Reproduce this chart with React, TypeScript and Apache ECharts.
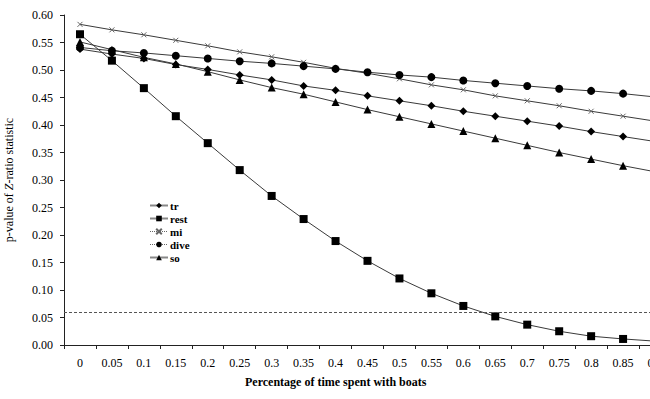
import React, { useEffect, useRef } from "react";
import * as echarts from "echarts";

const categories = ["0", "0.05", "0.1", "0.15", "0.2", "0.25", "0.3", "0.35", "0.4", "0.45", "0.5", "0.55", "0.6", "0.65", "0.7", "0.75", "0.8", "0.85", "0.9"];
const trValues = [0.538, 0.529, 0.521, 0.510, 0.501, 0.491, 0.482, 0.471, 0.463, 0.453, 0.444, 0.435, 0.425, 0.416, 0.407, 0.398, 0.388, 0.379, 0.370];
const restValues = [0.565, 0.517, 0.467, 0.416, 0.367, 0.318, 0.271, 0.229, 0.189, 0.153, 0.121, 0.094, 0.071, 0.052, 0.037, 0.025, 0.016, 0.011, 0.007];
const miValues = [0.583, 0.573, 0.564, 0.554, 0.544, 0.533, 0.524, 0.514, 0.503, 0.494, 0.484, 0.473, 0.464, 0.453, 0.444, 0.435, 0.425, 0.416, 0.407];
const diveValues = [0.541, 0.535, 0.531, 0.526, 0.521, 0.516, 0.512, 0.507, 0.502, 0.496, 0.491, 0.487, 0.481, 0.476, 0.471, 0.466, 0.462, 0.457, 0.451];
const soValues = [0.551, 0.537, 0.523, 0.511, 0.497, 0.482, 0.468, 0.456, 0.442, 0.428, 0.415, 0.402, 0.389, 0.376, 0.363, 0.350, 0.338, 0.326, 0.315];
const thresholdValue = 0.056;
const yTicks = { min: 0, max: 0.6, interval: 0.05 };

const FONT = "Liberation Serif, Times New Roman, DejaVu Serif, serif";

export default function App() {
  const ref = useRef<HTMLDivElement>(null);
  useEffect(() => {
    document.body.style.margin = "0";
    const chart = echarts.init(ref.current!, null, { renderer: "svg" });
    const lineColor = "#3a3a3a";
    const mk = (name: string, data: number[], symbol: string, size: number, symColor = "#000", extra: any = {}) => ({
      name,
      type: "line",
      data,
      symbol,
      symbolSize: size,
      showSymbol: true,
      lineStyle: { color: lineColor, width: 1 },
      itemStyle: { color: symColor, borderColor: symColor, borderWidth: 0 },
      emphasis: { disabled: true },
      z: 3,
      ...extra,
    });
    const crossPath = "path://M0,0L10,10M10,0L0,10";
    chart.setOption({
      animation: false,
      backgroundColor: "#fff",
      textStyle: { fontFamily: FONT },
      grid: { left: 64, top: 15, width: 607, height: 330, outerBoundsMode: "none", containLabel: false },
      legend: {
        orient: "vertical",
        left: 144,
        top: 195,
        itemWidth: 18,
        itemHeight: 7,
        itemGap: 2,
        textStyle: { fontFamily: FONT, fontSize: 11, fontWeight: "bold", color: "#000", padding: [0, 0, 0, -3] },
        data: [
          { name: "tr", lineStyle: { color: "#888", width: 2 } },
          { name: "rest", lineStyle: { color: "#888", width: 2 } },
          { name: "mi", lineStyle: { color: "#666", width: 1, type: "dotted" } },
          { name: "dive", lineStyle: { color: "#666", width: 1, type: "dotted" } },
          { name: "so", lineStyle: { color: "#888", width: 2 } },
        ],
      },
      xAxis: {
        type: "category",
        data: categories,
        boundaryGap: true,
        axisLine: { lineStyle: { color: "#222", width: 1 } },
        axisTick: { show: true, length: 4, inside: false, alignWithLabel: false, lineStyle: { color: "#222" } },
        axisLabel: { interval: 0, margin: 12, fontSize: 12, color: "#000", fontFamily: FONT, hideOverlap: false },
        splitLine: { show: false },
      },
      yAxis: {
        type: "value",
        min: yTicks.min,
        max: yTicks.max,
        interval: yTicks.interval,
        name: "p-value of {i|Z}-ratio statistic",
        nameLocation: "middle",
        nameGap: 49,
        nameTextStyle: {
          fontFamily: FONT,
          fontSize: 12,
          color: "#000",
          rich: { i: { fontStyle: "italic", fontFamily: FONT, fontSize: 12, color: "#000" } },
        },
        axisLine: { show: true, lineStyle: { color: "#222", width: 1 } },
        axisTick: { show: true, length: 4, lineStyle: { color: "#222" } },
        axisLabel: { margin: 11, fontSize: 12, color: "#000", fontFamily: FONT, formatter: (v: number) => v.toFixed(2) },
        splitLine: { show: false },
      },
      series: [
        mk("tr", trValues, "diamond", 8),
        mk("rest", restValues, "rect", 8, "#000", {
          markLine: {
            silent: true,
            symbol: "none",
            label: { show: false },
            lineStyle: { color: "#555", type: [3, 2], width: 1 },
            data: [{ yAxis: thresholdValue }],
          },
        }),
        {
          ...mk("mi", miValues, crossPath, 5, "#666"),
          itemStyle: { color: "#666", borderColor: "#666", borderWidth: 1 },
        },
        mk("dive", diveValues, "circle", 8),
        mk("so", soValues, "triangle", 8),
      ],
      graphic: [
        {
          type: "text",
          left: 245,
          top: 376,
          style: { text: "Percentage of time spent with boats", fontFamily: FONT, fontSize: 12, fontWeight: "bold", fill: "#000" },
        },
      ],
    });
    return () => chart.dispose();
  }, []);
  return <div ref={ref} style={{ position: "fixed", left: 0, top: 0, width: 650, height: 399 }} />;
}
